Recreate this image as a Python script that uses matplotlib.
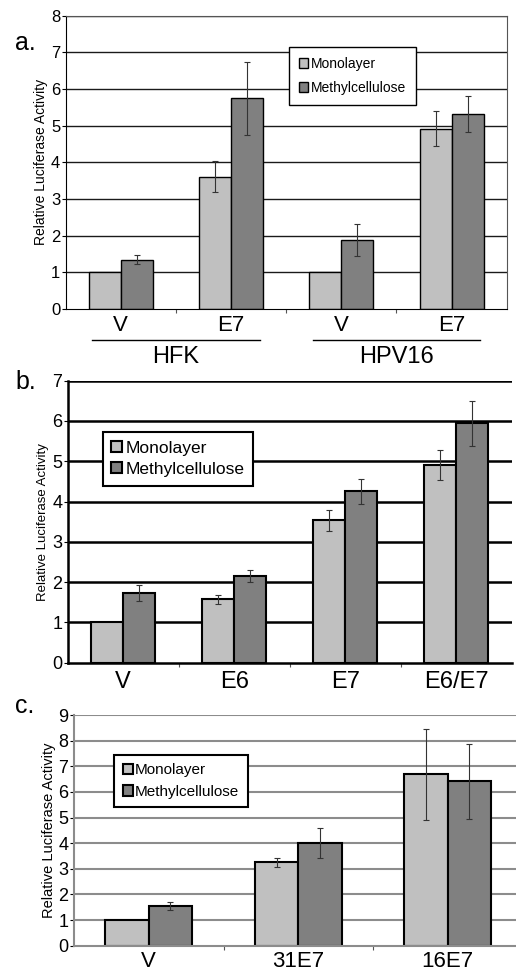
import matplotlib
matplotlib.use('Agg')
import matplotlib.pyplot as plt
import numpy as np

plt.rcParams['font.family'] = ['Liberation Sans', 'DejaVu Sans']

# Panel a
a_labels = ['V', 'E7', 'V', 'E7']
a_mono = [1.0, 3.61, 1.0, 4.92]
a_mono_err = [0.0, 0.42, 0.0, 0.48]
a_meth = [1.35, 5.75, 1.88, 5.33]
a_meth_err = [0.12, 1.0, 0.43, 0.49]
a_groups = ['HFK', 'HPV16']

# Panel b
b_labels = ['V', 'E6', 'E7', 'E6/E7']
b_mono = [1.0, 1.57, 3.54, 4.90]
b_mono_err = [0.0, 0.11, 0.26, 0.37]
b_meth = [1.74, 2.15, 4.25, 5.94]
b_meth_err = [0.20, 0.15, 0.30, 0.55]

# Panel c
c_labels = ['V', '31E7', '16E7']
c_mono = [1.0, 3.26, 6.68]
c_mono_err = [0.0, 0.18, 1.79]
c_meth = [1.56, 4.02, 6.41]
c_meth_err = [0.15, 0.58, 1.45]

LIGHT = '#c0c0c0'
DARK = '#808080'
W = 0.29

fig = plt.figure(figsize=(5.16, 9.73), dpi=100)
W_PX, H_PX = 516.0, 973.0


def px_axes(left, right, top, bottom):
    return fig.add_axes([left / W_PX, 1 - bottom / H_PX,
                         (right - left) / W_PX, (bottom - top) / H_PX])


def draw_panel(ax, labels, mono, mono_err, meth, meth_err, ymax, grid_color,
               grid_lw, edge_lw, ytick_fs, xtick_fs, ylabel_fs):
    x = np.arange(len(labels))
    ax.set_axisbelow(True)
    for y in range(1, ymax + 1):
        ax.axhline(y, color=grid_color, lw=grid_lw, zorder=0)
    ax.bar(x - W / 2, mono, W, color=LIGHT, edgecolor='black', lw=edge_lw,
           label='Monolayer', zorder=2)
    ax.bar(x + W / 2, meth, W, color=DARK, edgecolor='black', lw=edge_lw,
           label='Methylcellulose', zorder=2)
    for xs, vals, errs in ((x - W / 2, mono, mono_err), (x + W / 2, meth, meth_err)):
        for xi, v, e in zip(xs, vals, errs):
            if e > 0:
                ax.errorbar(xi, v, yerr=e, fmt='none', ecolor='#333333',
                            elinewidth=0.8, capsize=2, capthick=0.8, zorder=3)
    ax.set_xlim(-0.5, len(labels) - 0.5)
    ax.set_ylim(0, ymax)
    ax.set_yticks(range(0, ymax + 1))
    ax.set_xticks(np.arange(len(labels) - 1) + 0.5, minor=False)
    ax.set_xticklabels([])
    ax.set_xticks(x, minor=True)
    ax.set_xticklabels(labels, minor=True, fontsize=xtick_fs)
    ax.tick_params(axis='x', which='minor', length=0, pad=4)
    ax.tick_params(axis='x', which='major', length=3, color='#555555')
    ax.tick_params(axis='y', labelsize=ytick_fs, length=3, pad=1)
    ax.set_ylabel('Relative Luciferase Activity', fontsize=ylabel_fs, labelpad=2)
    return x


# ---- a ----
ax = px_axes(65.7, 506.7, 15.7, 309)
draw_panel(ax, a_labels, a_mono, a_mono_err, a_meth, a_meth_err, 8,
           '#1a1a1a', 1.0, 1.0, 12, 16, 10)
for s in ['top', 'right']:
    ax.spines[s].set_color('#555555')
    ax.spines[s].set_linewidth(0.8)
leg = ax.legend(loc='upper left', bbox_to_anchor=(0.506, 0.894), fontsize=10,
                frameon=True, fancybox=False, edgecolor='black', framealpha=1,
                handlelength=0.7, handleheight=0.7, handletextpad=0.2,
                labelspacing=0.75, borderpad=0.7, borderaxespad=0)
leg.get_frame().set_linewidth(1.0)
for i, g in enumerate(a_groups):
    cx = 2 * i + 0.5
    ax.plot([cx - 0.76, cx + 0.76], [-0.85, -0.85], color='black', lw=1.0,
            clip_on=False)
    ax.text(cx, -1.3, g, ha='center', va='center', fontsize=17)
fig.text(15 / W_PX, 1 - 43 / H_PX, 'a.', fontsize=18, va='center')

# ---- b ----
ax = px_axes(67.7, 511.7, 380.7, 662.7)
draw_panel(ax, b_labels, b_mono, b_mono_err, b_meth, b_meth_err, 7,
           'black', 1.8, 1.5, 13, 17, 9.5)
for s in ['top', 'right']:
    ax.spines[s].set_visible(False)
for s in ['left', 'bottom']:
    ax.spines[s].set_linewidth(1.8)
ax.tick_params(axis='x', which='minor', pad=6)
leg = ax.legend(loc='upper left', bbox_to_anchor=(0.079, 0.817), fontsize=12.5,
                frameon=True, fancybox=False, edgecolor='black', framealpha=1,
                handlelength=0.6, handleheight=0.6, handletextpad=0.2,
                labelspacing=0.35, borderpad=0.5, borderaxespad=0)
leg.get_frame().set_linewidth(1.5)
fig.text(15 / W_PX, 1 - 382 / H_PX, 'b.', fontsize=18, va='center')

# ---- c ----
ax = px_axes(74, 522.5, 715, 945.7)
draw_panel(ax, c_labels, c_mono, c_mono_err, c_meth, c_meth_err, 9,
           '#8c8c8c', 1.5, 1.5, 13, 16, 10.5)
for s in ['top', 'right']:
    ax.spines[s].set_visible(False)
for s in ['left', 'bottom']:
    ax.spines[s].set_color('#8c8c8c')
    ax.spines[s].set_linewidth(1.5)
leg = ax.legend(loc='upper left', bbox_to_anchor=(0.09, 0.827), fontsize=11,
                frameon=True, fancybox=False, edgecolor='black', framealpha=1,
                handlelength=0.65, handleheight=0.65, handletextpad=0.15,
                labelspacing=0.5, borderpad=0.55, borderaxespad=0)
leg.get_frame().set_linewidth(1.5)
fig.text(15 / W_PX, 1 - 706 / H_PX, 'c.', fontsize=18, va='center')

fig.savefig('out.png', dpi=100)
